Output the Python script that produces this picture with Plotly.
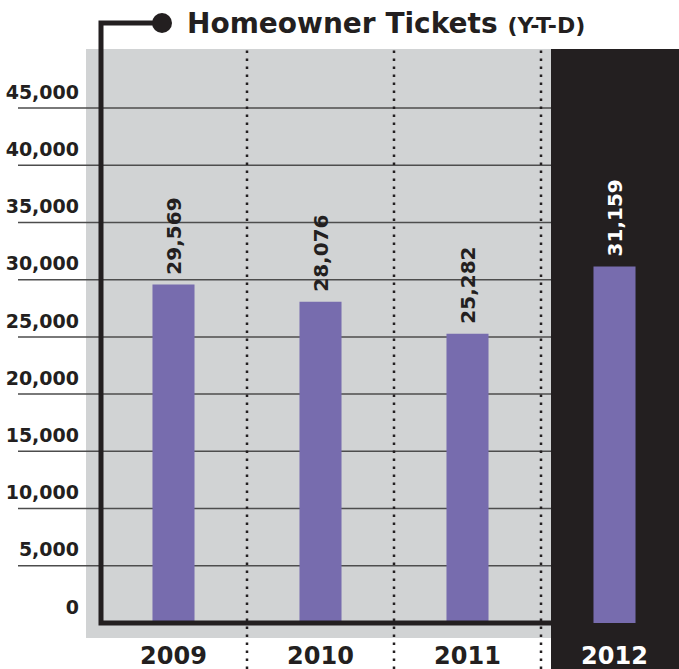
import plotly.graph_objects as go

# ---- data -------------------------------------------------------------
years = ["2009", "2010", "2011", "2012"]
tickets = [29569, 28076, 25282, 31159]
y_ticks = [0, 5000, 10000, 15000, 20000, 25000, 30000, 35000, 40000, 45000]
y_tick_labels = [f"{v:,}" for v in y_ticks]
title_main = "Homeowner Tickets"
title_sub = "(Y-T-D)"

# ---- styling ----------------------------------------------------------
W, H = 679, 669
INK = "#231f20"
GRAY = "#d1d3d4"
PURPLE = "#776cae"
GRID = "#4d4d4d"
FONT = "DejaVu Sans"

ZERO_ROW = 623      # pixel row of the value axis zero line
TOP_GRID_ROW = 108  # pixel row of the highest gridline
SLOT = 147          # pixels per year column
FIRST_CENTER = 173.5


def px_x(p):
    return p / W


def px_y(p):
    return 1 - p / ZERO_ROW


y_top = y_ticks[-1] * ZERO_ROW / (ZERO_ROW - TOP_GRID_ROW)
x_range = [-FIRST_CENTER / SLOT, (W - FIRST_CENTER) / SLOT]

label_colors = [INK] * (len(years) - 1) + ["white"]
year_text = [
    y if c == INK else f"<span style='color:{c}'>{y}</span>"
    for y, c in zip(years, label_colors)
]

fig = go.Figure(
    go.Bar(
        x=years,
        y=tickets,
        width=0.286,
        marker=dict(color=PURPLE, line=dict(width=0)),
        # a non-breaking space keeps the rotated value clear of the bar top
        texttemplate="\u00a0%{y:,.0f}",
        textposition="outside",
        textangle=-90,
        constraintext="none",
        cliponaxis=False,
        outsidetextfont=dict(family=FONT, size=20, color=label_colors, weight="bold"),
        hoverinfo="skip",
    )
)

shapes = []
# light panel behind 2009-2011
shapes.append(dict(type="rect", xref="paper", yref="paper",
                   x0=px_x(86), x1=px_x(551), y0=px_y(638), y1=px_y(49),
                   fillcolor=GRAY, line=dict(width=0), layer="below"))
# dark panel behind the current year
shapes.append(dict(type="rect", xref="paper", yref="paper",
                   x0=px_x(551), x1=1, y0=px_y(669), y1=px_y(49),
                   fillcolor=INK, line=dict(width=0), layer="below"))
# horizontal gridlines
for v in y_ticks[1:]:
    shapes.append(dict(type="line", xref="paper", yref="y",
                       x0=px_x(18), x1=px_x(551), y0=v, y1=v,
                       line=dict(color=GRID, width=1.5), layer="below"))
# dotted separators between the year columns
for b in [i + 0.5 for i in range(len(years) - 1)]:
    shapes.append(dict(type="line", xref="x", yref="paper",
                       x0=b, x1=b, y0=px_y(669), y1=px_y(49),
                       line=dict(color=INK, width=2.5, dash="2.5px,5.5px"),
                       layer="below"))
# bracket running from the title marker down and along the baseline
fx, fy = px_x(101), px_y(23)
dot_x = px_x(162)
shapes.append(dict(type="path", xref="paper", yref="paper",
                   path=f"M{dot_x},{fy} L{fx},{fy} L{fx},0 L{px_x(551)},0",
                   line=dict(color=INK, width=5), layer="above"))
shapes.append(dict(type="circle", xref="paper", yref="paper",
                   x0=px_x(152), x1=px_x(172), y0=px_y(33), y1=px_y(13),
                   fillcolor=INK, line=dict(width=0), layer="above"))

fig.update_layout(
    width=W,
    height=H,
    margin=dict(l=0, r=0, t=0, b=H - ZERO_ROW, pad=0),
    paper_bgcolor="white",
    plot_bgcolor="rgba(0,0,0,0)",
    showlegend=False,
    shapes=shapes,
    xaxis=dict(
        type="category",
        range=x_range,
        tickvals=years,
        ticktext=year_text,
        ticks="",
        showgrid=False,
        zeroline=False,
        showline=False,
        ticklabelstandoff=16,
        tickfont=dict(family=FONT, size=24, color=INK, weight="bold"),
    ),
    yaxis=dict(
        range=[0, y_top],
        anchor="free",
        position=px_x(79),
        tickvals=y_ticks,
        ticktext=y_tick_labels,
        ticks="",
        showgrid=False,
        zeroline=False,
        showline=False,
        ticklabelshift=-16,
        tickfont=dict(family=FONT, size=19, color=INK, weight="bold"),
    ),
    annotations=[
        dict(
            xref="paper", yref="paper",
            x=px_x(185), y=px_y(23),
            xanchor="left", yanchor="middle",
            showarrow=False,
            text=f"{title_main} <span style='font-size:22px'>{title_sub}</span>",
            font=dict(family=FONT, size=28, color=INK, weight="bold"),
        )
    ],
)

fig.write_html("out.html")
